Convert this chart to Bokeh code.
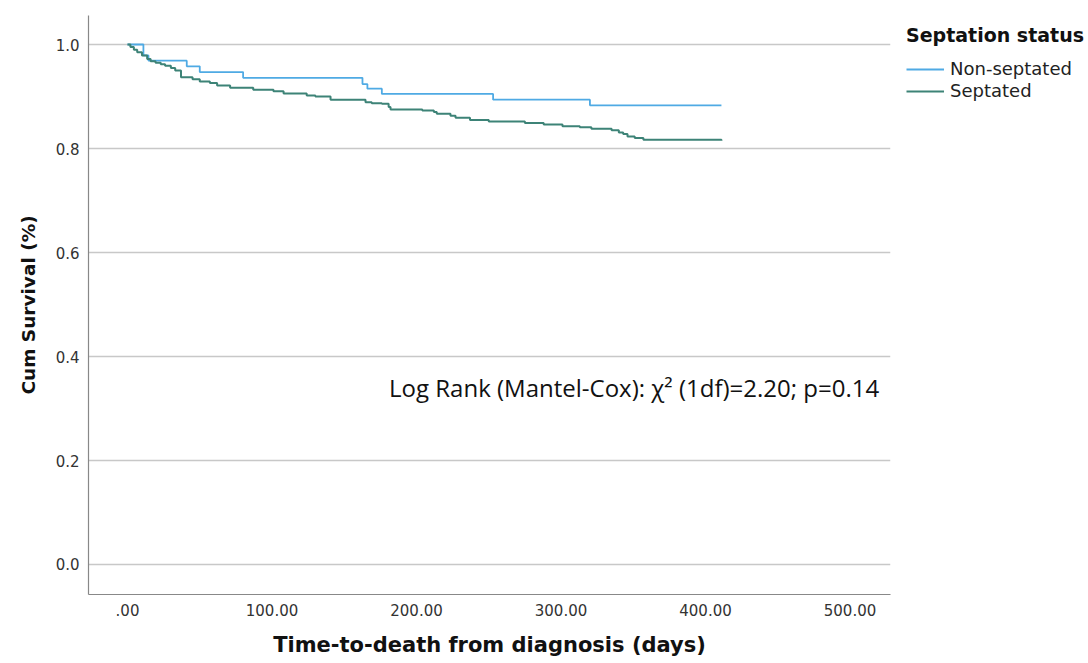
from bokeh.plotting import figure
from bokeh.models import Range1d, FixedTicker, Legend, LegendItem, Label
from bokeh.embed import file_html
from bokeh.resources import INLINE

# ---- data ----
nonsept_days = [0, 11, 14.5, 41, 50, 80, 162.6, 166, 176, 253, 320, 411]
nonsept_surv = [1.0, 0.979, 0.969, 0.958, 0.947, 0.936, 0.924, 0.915, 0.905, 0.894, 0.883, 0.883]

sept_days = [0, 2, 4.4, 6.7, 10, 13.6, 16, 19.4, 23, 26, 30, 33, 37, 45, 50, 57, 62, 71, 87,
             101, 108, 124, 130, 140.5, 164.7, 169, 176, 180.7, 182, 204, 212, 214, 223.5, 227,
             237, 250, 275, 288, 301, 313, 321, 335, 340, 343, 346, 351, 357, 411]
sept_surv = [1.0, 0.995, 0.990, 0.985, 0.979, 0.972, 0.968, 0.965, 0.962, 0.959, 0.955, 0.950,
             0.937, 0.933, 0.929, 0.926, 0.921, 0.917, 0.913, 0.910, 0.906, 0.902, 0.900, 0.894,
             0.889, 0.887, 0.886, 0.880, 0.875, 0.873, 0.870, 0.867, 0.863, 0.859, 0.855, 0.852,
             0.849, 0.846, 0.843, 0.841, 0.838, 0.835, 0.831, 0.828, 0.823, 0.820, 0.817, 0.815]

x_ticks = [0, 100, 200, 300, 400, 500]
x_tick_labels = [".00", "100.00", "200.00", "300.00", "400.00", "500.00"]
y_ticks = [0.0, 0.2, 0.4, 0.6, 0.8, 1.0]
y_tick_labels = ["0.0", "0.2", "0.4", "0.6", "0.8", "1.0"]

series_names = ["Non-septated", "Septated"]
legend_title = "Septation status"
x_title = "Time\u2010to\u2010death from diagnosis (days)"
y_title = "Cum Survival (%)"
annotation = "Log Rank (Mantel-Cox): \u03c7\u00b2 (1df)=2.20; p=0.14"
ann_x, ann_y = 181, 0.341

BLUE = "#4FAAE4"
GREEN = "#3D8377"

p = figure(width=1088, height=663, frame_width=802, frame_height=579,
           x_range=Range1d(-27, 528), y_range=Range1d(-0.0577, 1.0558),
           output_backend="svg", toolbar_location=None,
           min_border_left=88, min_border_right=198, min_border_top=15, min_border_bottom=69)

p.outline_line_color = None
p.background_fill_color = "white"
p.border_fill_color = "white"

# grid
p.xgrid.grid_line_color = None
p.ygrid.grid_line_color = "#c8c8c8"
p.ygrid.grid_line_width = 1.6

# axes
p.xaxis.ticker = FixedTicker(ticks=x_ticks)
p.yaxis.ticker = FixedTicker(ticks=y_ticks)
p.xaxis.major_label_overrides = {t: l for t, l in zip(x_ticks, x_tick_labels)}
p.yaxis.major_label_overrides = {t: l for t, l in zip(y_ticks, y_tick_labels)}
for ax in (p.xaxis, p.yaxis):
    ax.axis_line_color = "#888888"
    ax.axis_line_width = 1.2
    ax.major_tick_line_color = None
    ax.minor_tick_line_color = None
    ax.major_tick_out = 0
    ax.major_tick_in = 0
    ax.major_label_text_font = "DejaVu Sans"
    ax.major_label_text_font_size = "15px"
    ax.major_label_text_color = "#333333"
    ax.axis_label_text_font = "DejaVu Sans"
    ax.axis_label_text_font_style = "bold"
    ax.axis_label_text_color = "#111111"
p.xaxis.axis_label = x_title
p.yaxis.axis_label = y_title
p.xaxis.axis_label_text_font_size = "21px"
p.yaxis.axis_label_text_font_size = "18.5px"
p.xaxis.major_label_standoff = 9
p.yaxis.major_label_standoff = 9
p.xaxis.axis_label_standoff = 14
p.yaxis.axis_label_standoff = 14

r1 = p.step(nonsept_days, nonsept_surv, mode="after", line_color=BLUE, line_width=1.8)
r2 = p.step(sept_days, sept_surv, mode="after", line_color=GREEN, line_width=2.0)

legend = Legend(items=[LegendItem(label=series_names[0], renderers=[r1]),
                       LegendItem(label=series_names[1], renderers=[r2])],
                location="top_left")
legend.title = legend_title
legend.title_text_font = "DejaVu Sans"
legend.title_text_font_style = "bold"
legend.title_text_font_size = "19px"
legend.title_text_color = "#111111"
legend.title_standoff = 12
legend.label_text_font = "DejaVu Sans"
legend.label_text_font_size = "18px"
legend.label_text_color = "#222222"
legend.glyph_width = 38
legend.glyph_height = 20
legend.label_standoff = 6
legend.spacing = 1
legend.padding = 4
legend.margin = 0
legend.border_line_color = None
legend.background_fill_alpha = 0
p.add_layout(legend, "right")
legend.location = (16, 493)

p.add_layout(Label(x=ann_x, y=ann_y, text=annotation, text_font="Open Sans",
                   text_font_size="24px", text_baseline="middle", text_color="#111111"))

open("out.html", "w").write(file_html(p, INLINE))
